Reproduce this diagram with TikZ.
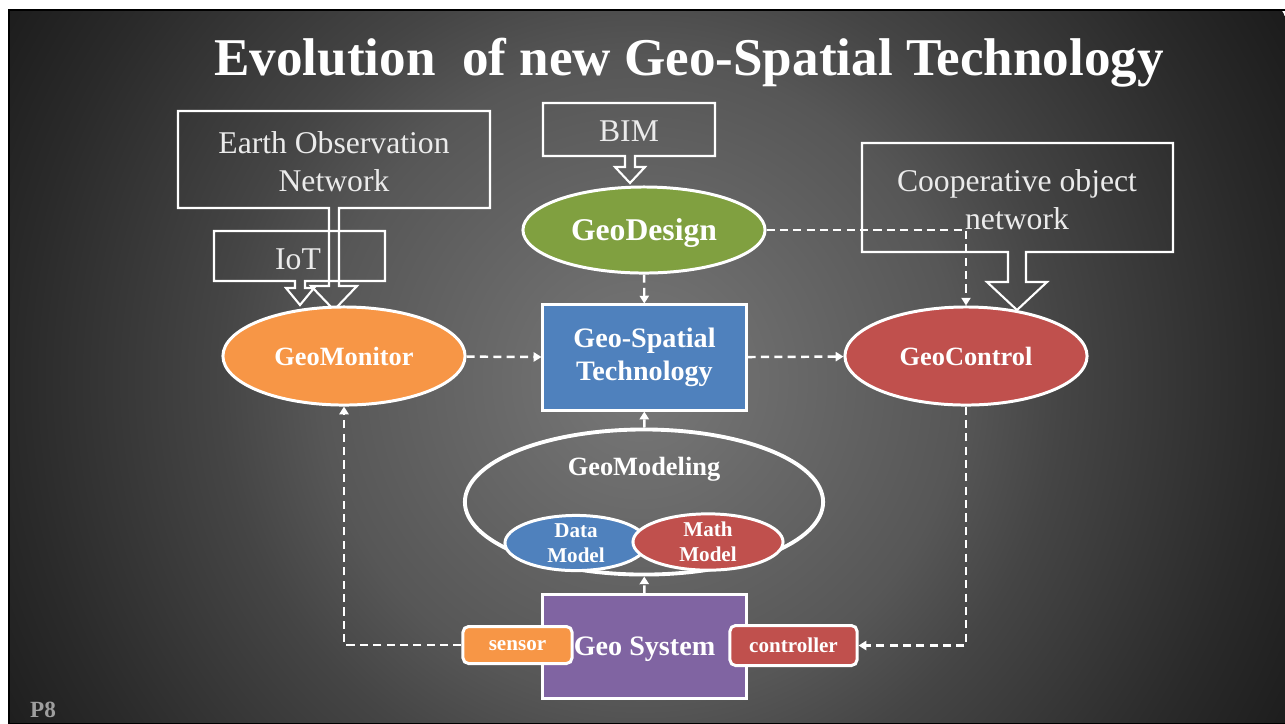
\documentclass[tikz,border=0pt]{standalone}
\usepackage{fontspec}
\setmainfont{Liberation Serif}
\usetikzlibrary{shapes.geometric,arrows.meta}

\definecolor{geoorange}{RGB}{247,150,70}
\definecolor{geored}{RGB}{192,80,77}
\definecolor{geoblue}{RGB}{79,129,189}
\definecolor{geogreen}{RGB}{128,160,64}
\definecolor{geopurple}{RGB}{128,100,162}
\definecolor{bgA}{gray}{0.47}
\definecolor{bgB}{gray}{0.34}
\definecolor{bgC}{gray}{0.27}
\definecolor{bgD}{gray}{0.165}
\definecolor{bgE}{gray}{0.11}
\pgfdeclareradialshading{slideglow}{\pgfpoint{0bp}{0bp}}{color(0bp)=(bgA);
   color(10.8bp)=(bgB); color(14.2bp)=(bgC); color(20.95bp)=(bgD); color(25bp)=(bgE);
   color(50bp)=(bgE)}

\begin{document}
\begin{tikzpicture}[x=0.01cm,y=-0.01cm,
   callout/.style={draw=white,line width=0.6pt,line join=miter},
   callouttext/.style={text=white!92!black,font=\fontsize{9}{10.8}\selectfont,
      align=center,inner sep=0pt},
   blob/.style={ellipse,draw=white,line width=0.85pt,inner sep=0pt,text=white,
      font=\bfseries\fontsize{7.5}{9}\selectfont,align=center},
   box/.style={rectangle,draw=white,line width=0.85pt,inner sep=0pt,text=white,
      font=\bfseries\fontsize{8}{9.4}\selectfont,align=center},
   tag/.style={rectangle,rounded corners=1.6pt,draw=white,line width=0.85pt,
      inner sep=0pt,text=white,font=\bfseries\fontsize{6}{7}\selectfont},
   flow/.style={draw=white,line width=0.7pt,dash pattern=on 2.3pt off 1.5pt,
      -{Triangle[length=2.2pt,width=2.6pt]}}
]
   \useasboundingbox (0,0) rectangle (1285,723);
   \fill[white] (0,0) rectangle (1285,723);
   \begin{scope}
      \clip (8,9) rectangle (1285,723);
      \shade[shading=slideglow] (640,380) circle (7.4cm);
   \end{scope}
   \draw[black,line width=0.6pt] (9,10) rectangle (1286,724);

   \node[text=white,anchor=base,font=\bfseries\fontsize{15.1}{18}\selectfont]
      (title) at (689,75) {Evolution\ \ of new Geo-Spatial Technology};
   \node[text=gray!75,anchor=base,font=\bfseries\fontsize{6.6}{8}\selectfont]
      (page) at (43,717) {P8};

   % callouts
   \draw[callout] (178,111) -- (490,111) -- (490,208) -- (339,208) -- (339,286)
      -- (357,286) -- (334,310) -- (311,286) -- (329,286) -- (329,208)
      -- (178,208) -- cycle;
   \draw[callout] (214,231) -- (385,231) -- (385,281) -- (305,281) -- (305,288)
      -- (314,288) -- (300,305) -- (286,288) -- (295,288) -- (295,281)
      -- (214,281) -- cycle;
   \draw[callout] (543,103) -- (715,103) -- (715,156) -- (635,156) -- (635,167)
      -- (645,167) -- (630,183) -- (615,167) -- (625,167) -- (625,156)
      -- (543,156) -- cycle;
   \draw[callout] (862,143) -- (1173,143) -- (1173,252) -- (1026,252) -- (1026,282)
      -- (1047,282) -- (1017,310) -- (987,282) -- (1008,282) -- (1008,252)
      -- (862,252) -- cycle;
   \node[callouttext] (eon) at (334,162) {Earth Observation\\Network};
   \node[callouttext] (iot) at (298,259) {IoT};
   \node[callouttext] (bim) at (629,131) {BIM};
   \node[callouttext] (coop) at (1017,200) {Cooperative object\\network};

   % main nodes
   \node[blob,fill=geogreen,minimum width=2.42cm,minimum height=0.86cm,text depth=0pt,
      font=\bfseries\fontsize{9}{10.8}\selectfont] (geodesign) at (644,230) {GeoDesign};
   \node[box,fill=geoblue,minimum width=2.03cm,minimum height=1.05cm]
      (geospatial) at (644.5,357.5) {Geo-Spatial\\Technology};
   \node[blob,fill=geoorange,minimum width=2.42cm,minimum height=0.98cm]
      (geomonitor) at (344,356) {GeoMonitor};
   \node[blob,fill=geored,minimum width=2.42cm,minimum height=0.98cm]
      (geocontrol) at (966,356) {GeoControl};

   \node[blob,line width=1.1pt,minimum width=3.58cm,minimum height=1.45cm]
      (geomodeling) at (644,502) {};
   \node[text=white,font=\bfseries\fontsize{7.5}{9}\selectfont]
      (geomodelinglabel) at (644,469) {GeoModeling};
   \node[blob,fill=geoblue,minimum width=1.42cm,minimum height=0.52cm,
      font=\bfseries\fontsize{6}{7.1}\selectfont] (datamodel) at (576,543) {Data\\Model};
   \node[blob,fill=geored,minimum width=1.5cm,minimum height=0.54cm,
      font=\bfseries\fontsize{6}{7.1}\selectfont] (mathmodel) at (708,542) {Math\\Model};

   \node[box,fill=geopurple,minimum width=2.03cm,minimum height=1.03cm,text depth=0pt]
      (geosystem) at (644.5,646.5) {Geo System};
   \node[tag,fill=geoorange,minimum width=1.09cm,minimum height=0.37cm,text depth=0pt]
      (sensor) at (517.5,645) {sensor};
   \node[tag,fill=geored,minimum width=1.27cm,minimum height=0.4cm]
      (controller) at (793.5,645.5) {controller};

   % dashed flows
   \draw[flow] (geodesign) -- (geospatial);
   \draw[flow] (geomonitor) -- (geospatial);
   \draw[flow] (geospatial) -- (geocontrol);
   \draw[flow] (geodesign.east) -| (geocontrol.north);
   \draw[flow] (geomodeling) -- (geospatial);
   \draw[flow] (geosystem) -- (geomodeling);
   \draw[flow] (sensor.west) -| (geomonitor.south);
   \draw[flow] (geocontrol.south) |- (controller.east);
\end{tikzpicture}
\end{document}
